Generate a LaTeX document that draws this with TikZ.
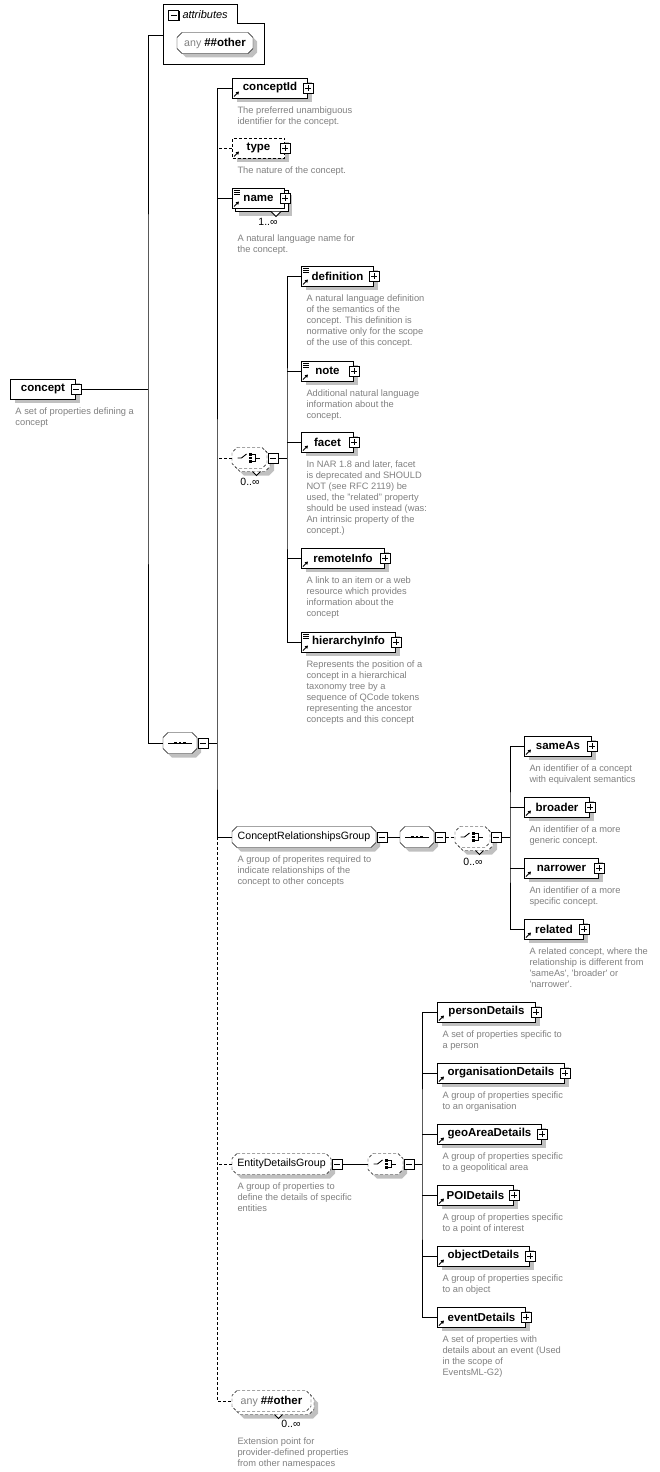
\documentclass[tikz,border=0pt]{standalone}
\usepackage{fontspec}
\setmainfont{Liberation Sans}
\usetikzlibrary{calc,shadows,backgrounds,arrows.meta}

\definecolor{desctext}{RGB}{128,128,128}
\definecolor{shadegray}{RGB}{192,192,192}

\tikzset{
  boxshadow/.style={drop shadow={shadow xshift=4pt,shadow yshift=-4pt,fill=shadegray,opacity=1}},
  elembase/.style={draw,fill=white,anchor=west,minimum height=20pt,inner xsep=3pt,inner ysep=0pt,
    font=\fontsize{11.5}{13}\selectfont\bfseries},
  elem/.style={elembase,boxshadow},
  grp/.style={anchor=west,minimum height=20pt,inner xsep=3pt,inner ysep=0pt,font=\fontsize{10.6}{12}\selectfont},
  octo/.style={draw,fill=white},
  optional/.style={dash pattern=on 3pt off 2pt},
  btn/.style={draw,fill=white,minimum size=10pt,inner sep=0pt,
    drop shadow={shadow xshift=1pt,shadow yshift=-1pt,fill=black,opacity=1}},
  btnplus/.style={btn,path picture={\draw ([xshift=2pt]path picture bounding box.west) -- ([xshift=-2pt]path picture bounding box.east)
      ([yshift=-2pt]path picture bounding box.north) -- ([yshift=2pt]path picture bounding box.south);}},
  btnminus/.style={btn,path picture={\draw ([xshift=2pt]path picture bounding box.west) -- ([xshift=-2pt]path picture bounding box.east);}},
  desc/.style={anchor=north west,xshift=5pt,yshift=-8pt,inner sep=0pt,align=left,text=desctext,
    font=\fontsize{9.3}{11}\selectfont},
  card/.style={inner sep=0pt,font=\fontsize{10.5}{12}\selectfont},
  refarrow/.style={line width=0.9pt,-{Triangle[length=3pt,width=3.5pt]}}
}

% octagon behind a node: [options]{node}{offset}
\newcommand{\octpath}[3][]{%
  \begin{scope}[on background layer]
    \path[octo,#1] ($(#2.north west)+(5+#3,#3)$) -- ($(#2.north east)+(-5+#3,#3)$)
      -- ($(#2.north east)+(#3,5+#3)$) -- ($(#2.south east)+(#3,-5+#3)$)
      -- ($(#2.south east)+(-5+#3,#3)$) -- ($(#2.south west)+(5+#3,#3)$)
      -- ($(#2.south west)+(#3,-5+#3)$) -- ($(#2.north west)+(#3,5+#3)$) -- cycle;
  \end{scope}}

\begin{document}
\begin{tikzpicture}[x=1pt,y=-1pt,line width=1pt,>=latex]
        \useasboundingbox (0,0) rectangle (659,1472);

        % the root element
        \node[elem,minimum width=65pt] (concept) at (10,389) {concept};

        % attributes box
        \node[minimum width=101pt,minimum height=60pt,inner sep=0pt,anchor=north west] (attr) at (163,5) {};
        \draw (163,5) -- (237,5) -- (237,24) -- (264,24) -- (264,65) -- (163,65) -- cycle;
        \node[anchor=west,inner sep=0pt,font=\fontsize{11}{12}\selectfont\itshape] (attrlbl) at (182,15) {attributes};
        \node[btnminus] (attr-b) at (173.5,15.5) {};
        \node[grp,minimum width=75pt] (anyat) at (177,43)
              {\textcolor{desctext}{any} {\fontsize{11.5}{13}\selectfont\bfseries \#\#other}};
        \octpath[boxshadow]{anyat}{0}

        % the elements
        \node[elem,minimum width=75pt] (cid) at (232,88) {conceptId};
        \node[elem,optional,minimum width=52pt] (typ) at (232,148) {type};
        \node[elembase,minimum width=52pt] (nam) at (232,198) {name};
        \node[elem,minimum width=72pt] (def) at (301,276) {definition};
        \node[elem,minimum width=52pt] (note) at (301,371) {note};
        \node[elem,minimum width=52pt] (facet) at (301,442) {facet};
        \node[elem,minimum width=83pt] (rinfo) at (301,558) {remoteInfo};
        \node[elem,minimum width=94pt] (hinfo) at (301,642) {hierarchyInfo};
        \node[elem,minimum width=67pt] (sameas) at (524,746) {sameAs};
        \node[elem,minimum width=65pt] (broader) at (524,807) {broader};
        \node[elem,minimum width=74pt] (narrower) at (524,868) {narrower};
        \node[elem,minimum width=59pt] (related) at (524,929) {related};
        \node[elem,minimum width=98pt] (person) at (437,1012) {personDetails};
        \node[elem,minimum width=127pt] (org) at (437,1073) {organisationDetails};
        \node[elem,minimum width=104pt] (geo) at (437,1134) {geoAreaDetails};
        \node[elem,minimum width=76pt] (poi) at (437,1195) {POIDetails};
        \node[elem,minimum width=92pt] (obj) at (437,1256) {objectDetails};
        \node[elem,minimum width=88pt] (event) at (437,1317) {eventDetails};

        % name may repeat
        \begin{scope}[on background layer]
          \draw[fill=white,boxshadow] ($(nam.north west)+(3,3)$) rectangle ($(nam.south east)+(3,3)$);
        \end{scope}
        \draw[fill=white,line width=0.8pt] ($(nam.south east)+(-14,3)$) -- ++(5,5) -- ++(5,-5);

        % sequences, choices and groups
        \node[grp,minimum width=33pt] (seq1) at (163,743) {};
        \node[grp,minimum width=34pt] (ch1) at (232,458) {};
        \node[grp,minimum width=143pt] (crg) at (232,837) {ConceptRelationshipsGroup};
        \node[grp,minimum width=33pt] (seq2) at (400,837) {};
        \node[grp,minimum width=34pt] (ch2) at (455,837) {};
        \node[grp,minimum width=98pt] (edg) at (232,1164) {EntityDetailsGroup};
        \node[grp,minimum width=34pt] (ch3) at (368,1164) {};
        \node[grp,minimum width=78pt] (anyo) at (232,1401)
              {\textcolor{desctext}{any} {\fontsize{11.5}{13}\selectfont\bfseries \#\#other}};

        \octpath[boxshadow]{seq1}{0}
        \octpath[boxshadow]{crg}{0}
        \octpath[boxshadow]{seq2}{0}
        \octpath[boxshadow,optional]{edg}{0}
        \octpath[boxshadow,optional]{ch3}{0}
        \foreach \n in {ch1,ch2,anyo} {
                \octpath[boxshadow,optional]{\n}{3}
                \octpath[optional]{\n}{0}
        }
        \foreach \n in {ch1,ch2,anyo}
                \draw[fill=white,line width=0.8pt] ($(\n.south)+(3,3)$) -- ++(4,4) -- ++(4,-4);

        % the icons inside
        \foreach \s in {seq1,seq2} {
                \draw ($(\s.west)+(5,0)$) -- ($(\s.east)+(-5,0)$);
                \foreach \d in {-4.5,0,4.5}
                        \fill ($(\s.center)+(\d-1.4,-1.4)$) rectangle ++(2.8,2.8);
        }
        \foreach \c in {ch1,ch2,ch3} {
                \draw[line width=0.9pt] ($(\c.center)+(-12,0)$) -- ++(4,0) -- ++(5,-4);
                \foreach \d in {-3.5,0,3.5}
                        \fill ($(\c.center)+(-0.4,\d-1.2)$) rectangle ++(2.6,2.4);
                \draw[line width=0.9pt] ($(\c.center)+(2.5,-3.5)$) -- ++(3,0) -- ++(0,7) -- ++(-3,0)
                      ($(\c.center)+(5.5,0)$) -- ++(5,0);
        }

        % reference arrows and simple content marks
        \foreach \n in {cid,typ,nam,def,note,facet,rinfo,hinfo,sameas,broader,narrower,related,person,org,geo,poi,obj,event}
                \draw[refarrow] ($(\n.south west)+(2,-2)$) -- ++(5,-5);
        \foreach \n in {nam,def,note,hinfo}
                \foreach \k in {2.5,4.5,6.5}
                        \draw[line width=0.7pt] ($(\n.north west)+(2,\k)$) -- ++(6,0);

        % expand buttons
        \node[btnminus] (concept-b) at (concept.east) {};
        \foreach \n in {cid,typ,nam,def,note,facet,rinfo,hinfo,sameas,broader,narrower,related,person,org,geo,poi,obj,event}
                \node[btnplus] (\n-b) at (\n.east) {};
        \foreach \n in {seq1,ch1,crg,seq2,ch2,edg,ch3}
                \node[btnminus] (\n-b) at ($(\n.east)+(6,0)$) {};

        % occurrences
        \node[card] (nam-c) at (268,222) {1..∞};
        \node[card] (ch1-c) at (250,482) {0..∞};
        \node[card] (ch2-c) at (473,862) {0..∞};
        \node[card] (anyo-c) at (291,1424) {0..∞};

        % connectors of the root
        \coordinate (spA) at (148,389);
        \draw (concept-b.east) -- (spA);
        \draw (attr.west) -| (spA) |- (seq1.west);

        % connectors of the sequence
        \coordinate (spB) at (217,743);
        \draw (cid.west) -| (spB) |- (crg.west);
        \draw (seq1-b.east) -- (spB);
        \draw (nam.west) -- (nam.west -| spB);
        \draw[optional] (typ.west) -- (typ.west -| spB);
        \draw[optional] (ch1.west) -- (ch1.west -| spB);
        \draw[optional] (crg.west -| spB) |- (anyo.west);
        \draw[optional] (edg.west) -- (edg.west -| spB);

        % connectors of the choice
        \coordinate (spC) at (287,458);
        \draw (def.west) -| (spC) |- (hinfo.west);
        \draw (ch1-b.east) -- (spC);
        \foreach \n in {note,facet,rinfo}
                \draw (\n.west) -- (\n.west -| spC);

        % connectors of the relationships group
        \draw (crg-b.east) -- (seq2.west);
        \draw[optional] (seq2-b.east) -- (ch2.west);
        \coordinate (spD) at (510,837);
        \draw (sameas.west) -| (spD) |- (related.west);
        \draw (ch2-b.east) -- (spD);
        \foreach \n in {broader,narrower}
                \draw (\n.west) -- (\n.west -| spD);

        % connectors of the entity details group
        \draw (edg-b.east) -- (ch3.west);
        \coordinate (spE) at (422,1164);
        \draw (person.west) -| (spE) |- (event.west);
        \draw (ch3-b.east) -- (spE);
        \foreach \n in {org,geo,poi,obj}
                \draw (\n.west) -- (\n.west -| spE);

        % the annotations
        \foreach \n/\txt in {
            concept/{A set of properties defining a\\concept},
            cid/{The preferred unambiguous\\identifier for the concept.},
            typ/{The nature of the concept.},
            def/{A natural language definition\\of the semantics of the\\concept. This definition is\\normative only for the scope\\of the use of this concept.},
            note/{Additional natural language\\information about the\\concept.},
            facet/{In NAR 1.8 and later, facet\\is deprecated and SHOULD\\NOT (see RFC 2119) be\\used, the "related" property\\should be used instead (was:\\An intrinsic property of the\\concept.)},
            rinfo/{A link to an item or a web\\resource which provides\\information about the\\concept},
            hinfo/{Represents the position of a\\concept in a hierarchical\\taxonomy tree by a\\sequence of QCode tokens\\representing the ancestor\\concepts and this concept},
            crg/{A group of properites required to\\indicate relationships of the\\concept to other concepts},
            sameas/{An identifier of a concept\\with equivalent semantics},
            broader/{An identifier of a more\\generic concept.},
            narrower/{An identifier of a more\\specific concept.},
            related/{A related concept, where the\\relationship is different from\\\textquotesingle sameAs\textquotesingle, \textquotesingle broader\textquotesingle{} or\\\textquotesingle narrower\textquotesingle.},
            edg/{A group of properties to\\define the details of specific\\entities},
            person/{A set of properties specific to\\a person},
            org/{A group of properties specific\\to an organisation},
            geo/{A group of properties specific\\to a geopolitical area},
            poi/{A group of properties specific\\to a point of interest},
            obj/{A group of properties specific\\to an object},
            event/{A set of properties with\\details about an event (Used\\in the scope of\\EventsML-G2)}}
                \node[desc] (\n-d) at (\n.south west) {\txt};
        \node[desc,yshift=-18pt] (nam-d) at (nam.south west) {A natural language name for\\the concept.};
        \node[desc,yshift=-18pt] (anyo-d) at (anyo.south west) {Extension point for\\provider-defined properties\\from other namespaces};
\end{tikzpicture}
\end{document}
